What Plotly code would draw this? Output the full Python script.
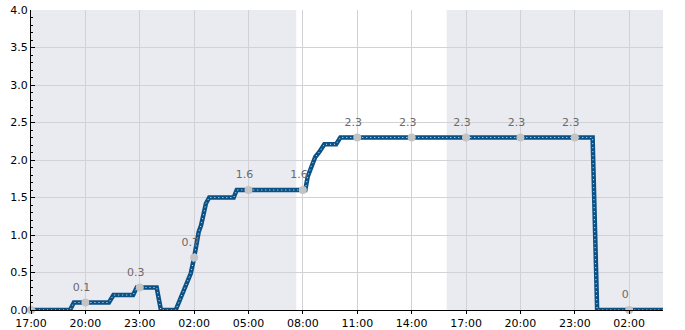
import plotly.graph_objects as go
import pandas as pd

# ---- data ----
line_times = [
    "2023-12-01 17:00", "2023-12-01 19:09", "2023-12-01 19:22", "2023-12-01 21:18",
    "2023-12-01 21:33", "2023-12-01 22:38", "2023-12-01 22:50", "2023-12-01 23:56",
    "2023-12-02 00:03", "2023-12-02 00:10", "2023-12-02 00:59", "2023-12-02 01:16",
    "2023-12-02 01:33", "2023-12-02 01:49", "2023-12-02 02:00", "2023-12-02 02:15",
    "2023-12-02 02:23", "2023-12-02 02:30", "2023-12-02 02:39", "2023-12-02 02:50",
    "2023-12-02 04:11", "2023-12-02 04:21", "2023-12-02 08:08", "2023-12-02 08:16",
    "2023-12-02 08:27", "2023-12-02 08:41", "2023-12-02 08:55", "2023-12-02 09:11",
    "2023-12-02 09:50", "2023-12-02 10:04", "2023-12-02 23:59", "2023-12-03 00:01",
    "2023-12-03 00:05", "2023-12-03 00:10", "2023-12-03 00:14", "2023-12-03 03:52",
]
line_values = [
    0.0, 0.0, 0.1, 0.1,
    0.2, 0.2, 0.3, 0.3,
    0.15, 0.0, 0.0, 0.16,
    0.33, 0.49, 0.7, 1.04,
    1.13, 1.24, 1.42, 1.5,
    1.5, 1.6, 1.6, 1.78,
    1.91, 2.04, 2.11, 2.21,
    2.21, 2.3, 2.3, 1.9,
    1.15, 0.4, 0.0, 0.0,
]

marker_times = [
    "2023-12-01 17:00", "2023-12-01 20:00", "2023-12-01 23:00", "2023-12-02 02:00",
    "2023-12-02 05:00", "2023-12-02 08:00", "2023-12-02 11:00", "2023-12-02 14:00",
    "2023-12-02 17:00", "2023-12-02 20:00", "2023-12-02 23:00", "2023-12-03 02:00",
]
marker_values = [0.0, 0.1, 0.3, 0.7, 1.6, 1.6, 2.3, 2.3, 2.3, 2.3, 2.3, 0.0]
marker_labels = ["", "0.1", "0.3", "0.7", "1.6", "1.6", "2.3", "2.3", "2.3", "2.3", "2.3", "0"]

# shaded (night) periods
shade_starts = ["2023-12-01 17:00", "2023-12-02 15:56"]
shade_ends = ["2023-12-02 07:38", "2023-12-03 03:52"]

x_range = ["2023-12-01 17:00", "2023-12-03 03:52"]
y_range = [0, 4]

LINE_COLOR = "#0a5286"
FONT = "DejaVu Sans"

# labels sit ~4 px left of their point: use an overlaid hidden axis whose range is nudged
label_nudge = pd.Timedelta(minutes=13)
label_range = [pd.Timestamp(x_range[0]) + label_nudge, pd.Timestamp(x_range[1]) + label_nudge]

fig = go.Figure()

# labels (drawn first so the line may overlap them)
fig.add_trace(go.Scatter(
    x=pd.to_datetime(marker_times), y=marker_values, mode="markers+text",
    xaxis="x2",
    marker=dict(size=13, opacity=0),
    text=marker_labels, textposition="top center",
    textfont=dict(family=FONT, size=11, color="#6a6a6a"),
    hoverinfo="skip", showlegend=False, cliponaxis=False,
))
# thick line
fig.add_trace(go.Scatter(
    x=pd.to_datetime(line_times), y=line_values, mode="lines",
    line=dict(color=LINE_COLOR, width=4.5), showlegend=False,
))
# dotted highlight inside the line
fig.add_trace(go.Scatter(
    x=pd.to_datetime(line_times), y=line_values, mode="lines",
    line=dict(color="#e4ebf2", width=1, dash="1px,3px"), showlegend=False,
    hoverinfo="skip",
))
# markers
fig.add_trace(go.Scatter(
    x=pd.to_datetime(marker_times), y=marker_values, mode="markers",
    marker=dict(color="#c4c4c4", size=8), showlegend=False,
    cliponaxis=False,
))

shapes = []
for s, e in zip(shade_starts, shade_ends):
    shapes.append(dict(type="rect", xref="x", yref="paper", x0=s, x1=e, y0=0, y1=1,
                       fillcolor="#eaeaf1", line=dict(width=0), layer="below"))

fig.update_layout(
    width=685, height=330,
    margin=dict(l=31, r=22, t=10, b=20, autoexpand=False),
    paper_bgcolor="white", plot_bgcolor="white",
    font=dict(family=FONT, size=11, color="black"),
    shapes=shapes,
    xaxis=dict(
        range=x_range, type="date", automargin=False,
        tickformat="%H:%M", dtick=3 * 3600 * 1000, tick0="2023-12-01 17:00",
        showgrid=True, gridcolor="#d2d2d6", gridwidth=1,
        showline=True, linecolor="black", linewidth=1,
        ticks="outside", ticklen=3, tickcolor="black",
        zeroline=False, fixedrange=True,
    ),
    xaxis2=dict(
        range=label_range, type="date", overlaying="x", visible=False,
        showgrid=False, zeroline=False, fixedrange=True, automargin=False,
    ),
    yaxis=dict(
        range=y_range, dtick=0.5, tickformat=".1f", automargin=False,
        showgrid=True, gridcolor="#d2d2d6", gridwidth=1,
        showline=True, linecolor="black", linewidth=1,
        ticks="inside", ticklen=4, tickcolor="black",
        minor=dict(dtick=0.1, ticks="inside", ticklen=2, tickcolor="black", showgrid=False),
        zeroline=False, fixedrange=True,
    ),
)

fig.write_html("out.html")
